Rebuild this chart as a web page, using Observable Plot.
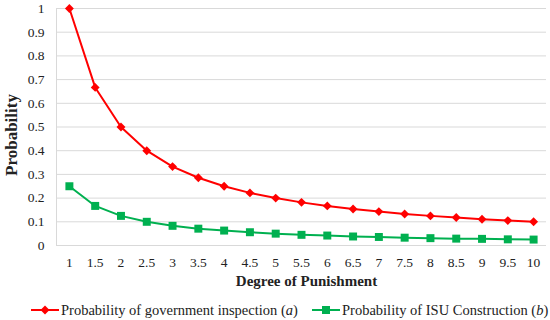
<!DOCTYPE html>
<html><head><meta charset="utf-8">
<script src="https://cdn.jsdelivr.net/npm/d3@7"></script>
<script src="https://cdn.jsdelivr.net/npm/@observablehq/plot@0.6"></script>
<style>
body{margin:0;background:#fff;}
#wrap{position:relative;width:550px;height:320px;font-family:"Liberation Serif",serif;color:#222;}
#chart svg{font-family:"Liberation Serif",serif;display:block;}
.leg{position:absolute;top:300px;height:20px;display:flex;align-items:center;font-size:14.5px;white-space:nowrap;}
.leg svg{display:block;margin-right:2px;}
</style></head>
<body><div id="wrap"><div id="chart"></div>
<div class="leg" style="left:31px"><svg width="28" height="14"><line x1="0" y1="7" x2="28" y2="7" stroke="#ff0000" stroke-width="2"/><path d="M14 2.5L18.5 7L14 11.5L9.5 7Z" fill="#ff0000"/></svg><span>Probability of government inspection (<i>a</i>)</span></div>
<div class="leg" style="left:312px"><svg width="28" height="14"><line x1="0" y1="7" x2="28" y2="7" stroke="#00b050" stroke-width="2"/><rect x="10" y="3" width="8" height="8" fill="#00b050"/></svg><span>Probability of ISU Construction (<i>b</i>)</span></div>
</div>
<script>
const degrees = [1, 1.5, 2, 2.5, 3, 3.5, 4, 4.5, 5, 5.5, 6, 6.5, 7, 7.5, 8, 8.5, 9, 9.5, 10];
const govInspection = [1, 0.667, 0.5, 0.4, 0.333, 0.286, 0.25, 0.222, 0.2, 0.182, 0.167, 0.154, 0.143, 0.133, 0.125, 0.118, 0.111, 0.105, 0.1];
const isuConstruction = [0.25, 0.167, 0.125, 0.1, 0.083, 0.071, 0.063, 0.056, 0.05, 0.045, 0.042, 0.038, 0.036, 0.033, 0.031, 0.029, 0.028, 0.026, 0.025];
const yTicks = [0, 0.1, 0.2, 0.3, 0.4, 0.5, 0.6, 0.7, 0.8, 0.9, 1];
const yTickLabels = ["0","0.1","0.2","0.3","0.4","0.5","0.6","0.7","0.8","0.9","1"];

const gov = degrees.map((d, i) => ({degree: d, value: govInspection[i]}));
const isu = degrees.map((d, i) => ({degree: d, value: isuConstruction[i]}));

const chart = Plot.plot({
  width: 550, height: 293,
  marginTop: 8, marginBottom: 48, marginLeft: 56, marginRight: 4,
  x: {type: "linear", domain: [0.75, 10.25]},
  y: {domain: [0, 1]},
  marks: [
    Plot.gridY(yTicks, {stroke: "#d9d9d9", strokeOpacity: 1}),
    Plot.ruleY([0], {stroke: "#d9d9d9"}),
    Plot.frame({anchor: "left", stroke: "#d9d9d9"}),
    Plot.axisY(yTicks, {tickSize: 0, tickPadding: 12, fontSize: 13.5, color: "#222",
      tickFormat: (d) => yTickLabels[yTicks.indexOf(d)], label: null}),
    Plot.axisX(degrees, {tickSize: 0, tickPadding: 12, fontSize: 13.5, color: "#222",
      tickFormat: (d) => String(d), label: null}),
    Plot.text(["Probability"], {frameAnchor: "left", textAnchor: "middle", dx: -45, dy: 8, rotate: -90,
      fontSize: 17, fontWeight: "bold", fill: "#222"}),
    Plot.text(["Degree of Punishment"], {frameAnchor: "bottom", dx: 5, dy: 40,
      fontSize: 15, fontWeight: "bold", fill: "#222"}),
    Plot.line(gov, {x: "degree", y: "value", stroke: "#ff0000", strokeWidth: 2}),
    Plot.dot(gov, {x: "degree", y: "value", fill: "#ff0000", symbol: "diamond2", r: 4}),
    Plot.line(isu, {x: "degree", y: "value", stroke: "#00b050", strokeWidth: 2}),
    Plot.dot(isu, {x: "degree", y: "value", fill: "#00b050", symbol: "square", r: 4.5})
  ]
});
document.getElementById("chart").appendChild(chart);
</script>
</body></html>
